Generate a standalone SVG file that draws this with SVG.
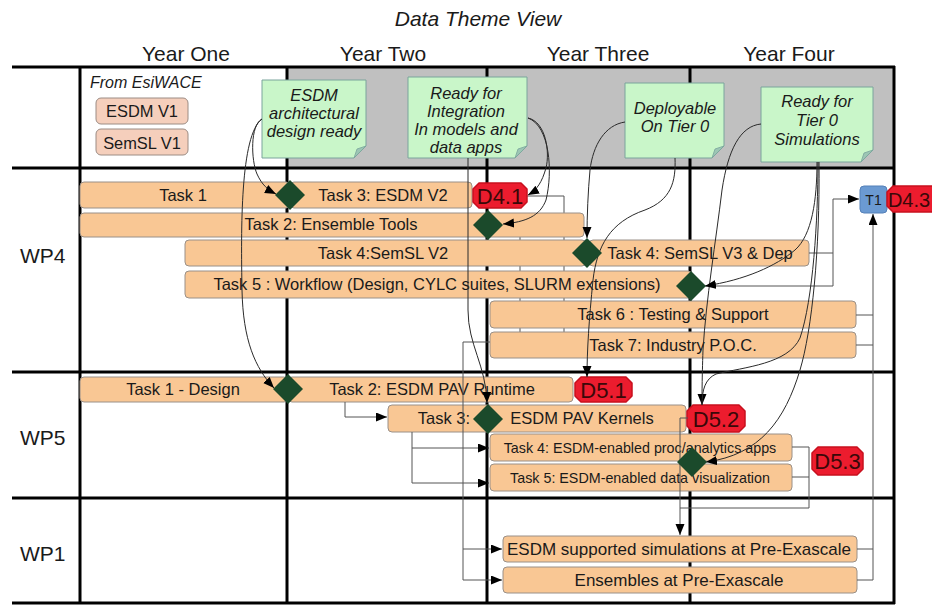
<svg xmlns="http://www.w3.org/2000/svg" width="932" height="605" viewBox="0 0 932 605">
  <style>
    text { font-family: "Liberation Sans", Arial, sans-serif; fill: #1a1a1a; }
    .title { font-size: 21px; font-style: italic; }
    .year { font-size: 21px; }
    .wp { font-size: 21px; }
    .grid { stroke: #000; stroke-width: 3; fill: none; }
    .bar { fill: #f9c794; stroke: #9a9088; stroke-width: 1; }
    .bt { font-size: 16.5px; text-anchor: middle; }
    .bts { font-size: 14.3px; text-anchor: middle; }
    .btl { font-size: 17px; text-anchor: middle; }
    .legend { fill: #f5cfbc; stroke: #9c8c84; stroke-width: 1; }
    .note { fill: #c9f6c9; stroke: #7aa49c; stroke-width: 1; }
    .fold { fill: #9cc6b4; stroke: #7aa49c; stroke-width: 0.8; }
    .nt { font-size: 16.5px; font-style: italic; text-anchor: middle; }
    .ms { fill: #1b4a2b; }
    .badge { fill: #ec1c2e; stroke: #c8101e; stroke-width: 1.5; stroke-linejoin: round; }
    .bdt { font-size: 22px; text-anchor: middle; fill: #3a0808; }
    .curve { fill: none; stroke: #2a2a2a; stroke-width: 1; }
    .link { fill: none; stroke: #555; stroke-width: 1; }
  </style>
  <defs>
    <marker id="arrow" markerUnits="userSpaceOnUse" markerWidth="12" markerHeight="10" refX="11" refY="4.5" orient="auto">
      <path d="M0,0 L11,4.5 L0,9 z" fill="#000"/>
    </marker>
  </defs>

  <rect width="932" height="605" fill="#fff"/>

  <!-- title and year headings -->
  <text class="title" x="478" y="26" text-anchor="middle">Data Theme View</text>
  <g text-anchor="middle">
    <text class="year" x="186" y="61">Year One</text>
    <text class="year" x="383" y="61">Year Two</text>
    <text class="year" x="598" y="61">Year Three</text>
    <text class="year" x="789" y="61">Year Four</text>
  </g>

  <!-- header band -->
  <rect x="287" y="67" width="607" height="101" fill="#c0c0c0"/>

  <!-- grid -->
  <g id="grid" class="grid">
    <line x1="12" y1="67" x2="895" y2="67"/>
    <line x1="12" y1="168" x2="895" y2="168"/>
    <line x1="12" y1="372" x2="895" y2="372"/>
    <line x1="12" y1="498" x2="895" y2="498"/>
    <line x1="12" y1="603" x2="895" y2="603"/>
    <line x1="80" y1="66" x2="80" y2="604"/>
    <line x1="287" y1="66" x2="287" y2="604"/>
    <line x1="487" y1="66" x2="487" y2="604"/>
    <line x1="690" y1="66" x2="690" y2="604"/>
    <line x1="894" y1="66" x2="894" y2="604"/>
  </g>

  <!-- work package labels -->
  <text class="wp" x="20" y="263">WP4</text>
  <text class="wp" x="20" y="445">WP5</text>
  <text class="wp" x="20" y="561">WP1</text>

  <!-- links running behind the task bars -->
  <g id="hidden-links" class="link">
    <path d="M527,196 H564 V345"/>
    <path d="M520,236 V345"/>
  </g>

  <!-- legend: inputs from EsiWACE -->
  <g id="legend">
    <text x="90" y="88" font-size="16" font-style="italic">From EsiWACE</text>
    <g id="esdm-v1">
      <rect class="legend" x="96" y="98" width="92" height="26" rx="5"/>
      <text x="142" y="117" font-size="16.4" text-anchor="middle">ESDM V1</text>
    </g>
    <g id="semsl-v1">
      <rect class="legend" x="96" y="129" width="92" height="26" rx="5"/>
      <text x="142" y="149" font-size="16.4" text-anchor="middle">SemSL V1</text>
    </g>
  </g>

  <!-- WP4 tasks -->
  <g id="wp4-task1"><rect class="bar" x="80" y="182" width="210" height="26" rx="4"/><text class="bt" x="183" y="201">Task 1</text></g>
  <g id="wp4-task3"><rect class="bar" x="290" y="182" width="182" height="26" rx="4"/><text class="bt" x="383" y="201">Task 3: ESDM V2</text></g>
  <g id="wp4-task2"><rect class="bar" x="80" y="213" width="504" height="24" rx="4"/><text class="bt" x="331" y="230">Task 2: Ensemble Tools</text></g>
  <g id="wp4-task4a"><rect class="bar" x="185" y="240" width="401" height="26" rx="4"/><text class="bt" x="383" y="259">Task 4:SemSL V2</text></g>
  <g id="wp4-task4b"><rect class="bar" x="589" y="240" width="220" height="26" rx="4"/><text class="bt" x="700" y="259">Task 4: SemSL V3 &amp; Dep</text></g>
  <g id="wp4-task5"><rect class="bar" x="185" y="271" width="507" height="27" rx="4"/><text class="bt" x="437" y="290">Task 5 : Workflow (Design, CYLC suites, SLURM extensions)</text></g>
  <g id="wp4-task6"><rect class="bar" x="490" y="301" width="366" height="27" rx="4"/><text class="bt" x="673" y="320">Task 6 : Testing &amp; Support</text></g>
  <g id="wp4-task7"><rect class="bar" x="490" y="332" width="366" height="26" rx="4"/><text class="bt" x="673" y="351">Task 7: Industry P.O.C.</text></g>

  <!-- WP5 tasks -->
  <g id="wp5-task1"><rect class="bar" x="80" y="377" width="208" height="25" rx="4"/><text class="bt" x="183" y="395">Task 1 - Design</text></g>
  <g id="wp5-task2"><rect class="bar" x="288" y="377" width="285" height="25" rx="4"/><text class="bt" x="432" y="395">Task 2: ESDM PAV Runtime</text></g>
  <g id="wp5-task3"><rect class="bar" x="388" y="405" width="298" height="27" rx="4"/><text class="bt" x="444" y="424">Task 3:</text><text class="bt" x="582" y="424">ESDM PAV Kernels</text></g>
  <g id="wp5-task4"><rect class="bar" x="490" y="434" width="302" height="27" rx="4"/><text class="bts" x="640" y="452.5">Task 4: ESDM-enabled proc/analytics apps</text></g>
  <g id="wp5-task5"><rect class="bar" x="490" y="464" width="302" height="27" rx="4"/><text class="bts" x="640" y="482.5">Task 5: ESDM-enabled data visualization</text></g>

  <!-- WP1 tasks -->
  <g id="wp1-sims"><rect class="bar" x="503" y="536" width="354" height="26" rx="4"/><text class="btl" x="679" y="555">ESDM supported simulations at Pre-Exascale</text></g>
  <g id="wp1-ensembles"><rect class="bar" x="503" y="567" width="354" height="26" rx="4"/><text class="btl" x="679" y="586">Ensembles at Pre-Exascale</text></g>

  <!-- milestone notes -->
  <g id="note-design">
    <path class="note" d="M262,80 H366 V146 L354,158 H262 Z"/>
    <path class="fold" d="M366,146 L354,158 L357,149 Z"/>
    <text class="nt" x="314" y="101">ESDM</text>
    <text class="nt" x="314" y="119">architectural</text>
    <text class="nt" x="314" y="137">design ready</text>
  </g>
  <g id="note-integration">
    <path class="note" d="M408,77 H527 V146 L515,158 H408 Z"/>
    <path class="fold" d="M527,146 L515,158 L518,149 Z"/>
    <text class="nt" x="466" y="99">Ready for</text>
    <text class="nt" x="466" y="117">Integration</text>
    <text class="nt" x="466" y="135">In models and</text>
    <text class="nt" x="466" y="153">data apps</text>
  </g>
  <g id="note-deployable">
    <path class="note" d="M625,83 H724 V146 L712,158 H625 Z"/>
    <path class="fold" d="M724,146 L712,158 L715,149 Z"/>
    <text class="nt" x="675" y="114">Deployable</text>
    <text class="nt" x="675" y="132">On Tier 0</text>
  </g>
  <g id="note-simulations">
    <path class="note" d="M761,87 H873 V150 L861,162 H761 Z"/>
    <path class="fold" d="M873,150 L861,162 L864,153 Z"/>
    <text class="nt" x="817" y="107">Ready for</text>
    <text class="nt" x="817" y="126">Tier 0</text>
    <text class="nt" x="817" y="145">Simulations</text>
  </g>

  <!-- deliverables -->
  <g id="d4-1"><polygon class="badge" points="479,183 521,183 527,189 527,202 521,208 479,208 473,202 473,189"/><text class="bdt" x="500" y="203.5">D4.1</text></g>
  <g id="t1"><rect x="860" y="186" width="27" height="27" rx="4" fill="#6b9ad2" stroke="#5580b8"/><text x="873.5" y="204.5" font-size="14" text-anchor="middle">T1</text></g>
  <g id="d4-3"><polygon class="badge" points="893,186 934,186 940,192 940,206 934,212 893,212 887,206 887,192"/><text class="bdt" x="909" y="206.5" style="font-size:20px">D4.3</text></g>
  <g id="d5-1"><polygon class="badge" points="581,377 626,377 632,383 632,396 626,402 581,402 575,396 575,383"/><text class="bdt" x="603.5" y="397.5">D5.1</text></g>
  <g id="d5-2"><polygon class="badge" points="693,405 739,405 745,411 745,426 739,432 693,432 687,426 687,411"/><text class="bdt" x="716" y="426.5">D5.2</text></g>
  <g id="d5-3"><polygon class="badge" points="818,447 857,447 863,453 863,469 857,475 818,475 812,469 812,453"/><text class="bdt" x="837.5" y="469">D5.3</text></g>

  <!-- connectors -->
  <g id="connectors">
    <g class="link">
      <path d="M809,253 H833 V199 H859" marker-end="url(#arrow)"/>
      <path d="M706,286 H833 V253"/>
      <path d="M856,315 H873"/>
      <path d="M856,345 H873"/>
      <path d="M857,549 H873"/>
      <path d="M857,580 H873 V214" marker-end="url(#arrow)"/>
      <path d="M345,402 V417 H387" marker-end="url(#arrow)"/>
      <path d="M412,432 V448 H489" marker-end="url(#arrow)"/>
      <path d="M412,448 V483 H489" marker-end="url(#arrow)"/>
      <path d="M490,342 H463 V549 H502" marker-end="url(#arrow)"/>
      <path d="M463,549 V580 H502" marker-end="url(#arrow)"/>
      <path d="M792,447 H809 V508 H680"/>
      <path d="M792,477 H809"/>
      <path d="M688,418 H680 V535" marker-end="url(#arrow)"/>
    </g>
    <g class="curve">
      <path d="M262,119 C250,125 251,160 257,174 C262,185 268,190 276,194" marker-end="url(#arrow)"/>
      <path d="M262,119 C240,135 241,230 242,290 C243,340 255,368 274,388" marker-end="url(#arrow)"/>
      <path d="M528,118 C546,122 550,152 546,168 C542,182 537,190 528,195" marker-end="url(#arrow)"/>
      <path d="M528,118 C550,126 553,172 546,200 C540,216 526,222 503,224" marker-end="url(#arrow)"/>
      <path d="M468,158 L468,310 C468,345 486,365 487,403" marker-end="url(#arrow)"/>
      <path d="M625,122 C605,125 593,145 590,170 C588,192 587,215 587,238" marker-end="url(#arrow)"/>
      <path d="M675,158 C676,182 671,200 645,210 C610,222 597,246 593,280 C589,320 587,350 587,377" marker-end="url(#arrow)"/>
      <path d="M761,124 C740,126 728,150 722,190 C716,240 706,300 703,350 C702,380 702,395 702,405" marker-end="url(#arrow)"/>
      <path d="M817,162 C817,200 812,235 795,250 C776,266 745,280 705,286" marker-end="url(#arrow)"/>
      <path d="M818,162 C818,220 813,300 800,338 C788,364 745,367 716,374 C705,379 702,390 702,405"/>
      <path d="M819,162 C820,250 812,330 800,370 C785,420 760,455 706,462" marker-end="url(#arrow)"/>
    </g>
  </g>

  <!-- milestones -->
  <g id="milestones" class="ms">
    <polygon id="m-wp4-1" points="290,180 305,195 290,210 275,195"/>
    <polygon id="m-wp4-2" points="488,210 503,225 488,240 473,225"/>
    <polygon id="m-wp4-3" points="587,238 602,253 587,268 572,253"/>
    <polygon id="m-wp4-4" points="691,271 706,286 691,301 676,286"/>
    <polygon id="m-wp5-1" points="288,374 303,389 288,404 273,389"/>
    <polygon id="m-wp5-2" points="488,404 503,419 488,434 473,419"/>
    <polygon id="m-wp5-3" points="692,447 707,462 692,477 677,462"/>
  </g>
</svg>
